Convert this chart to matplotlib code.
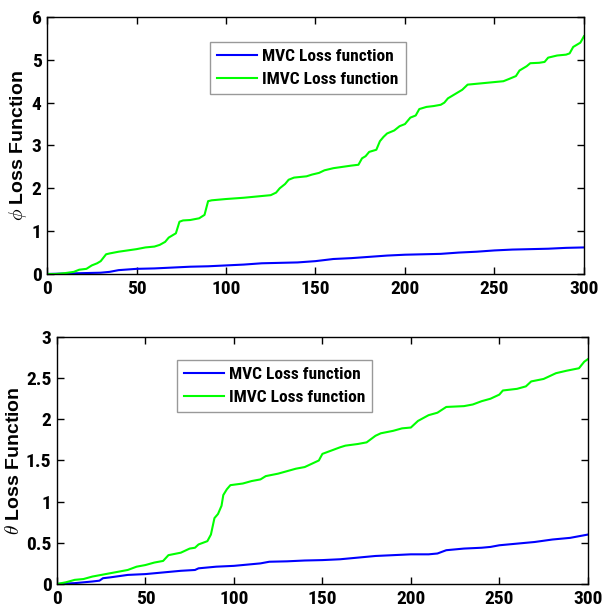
import matplotlib
matplotlib.use("Agg")
import matplotlib.pyplot as plt

plt.rcParams['font.family'] = ['Roboto Condensed', 'DejaVu Sans']
plt.rcParams['font.weight'] = 'bold'
plt.rcParams['mathtext.fontset'] = 'cm'

# phi loss (top panel)
phi_imvc_x = [0, 5, 10, 15, 18, 22, 25, 28, 30, 33, 35, 40, 45, 50, 55, 60, 63, 66, 68, 70, 72, 74, 76, 80, 85,
              88, 90, 92, 100, 110, 115, 120, 125, 128, 130, 133, 135, 138, 145, 148, 152, 155, 160, 165, 170,
              174, 176, 178, 180, 184, 186, 188, 190, 194, 197, 200, 203, 206, 208, 212, 216, 220, 222, 224,
              228, 232, 235, 240, 245, 250, 255, 258, 262, 264, 268, 270, 275, 278, 280, 285, 290, 292, 294,
              298, 300]
phi_imvc_y = [0, 0.0, 0.02, 0.05, 0.1, 0.12, 0.2, 0.25, 0.3, 0.46, 0.48, 0.52, 0.55, 0.58, 0.62, 0.64, 0.68,
              0.75, 0.85, 0.9, 0.95, 1.22, 1.25, 1.26, 1.3, 1.38, 1.7, 1.72, 1.75, 1.78, 1.8, 1.82, 1.84, 1.9,
              2.0, 2.1, 2.2, 2.25, 2.28, 2.32, 2.36, 2.42, 2.47, 2.5, 2.53, 2.55, 2.7, 2.75, 2.85, 2.9, 3.1,
              3.2, 3.28, 3.35, 3.45, 3.5, 3.65, 3.7, 3.85, 3.9, 3.92, 3.95, 4.0, 4.1, 4.2, 4.3, 4.42, 4.44,
              4.46, 4.48, 4.5, 4.55, 4.62, 4.75, 4.85, 4.92, 4.93, 4.95, 5.05, 5.1, 5.12, 5.15, 5.3, 5.4, 5.55]
phi_mvc_x = [0, 10, 20, 30, 35, 40, 50, 60, 70, 80, 90, 100, 110, 120, 130, 140, 150, 160, 170, 180, 190,
             200, 210, 220, 230, 240, 250, 260, 270, 280, 290, 300]
phi_mvc_y = [0, 0.01, 0.02, 0.03, 0.05, 0.09, 0.12, 0.13, 0.15, 0.17, 0.18, 0.2, 0.22, 0.25, 0.26, 0.27,
             0.3, 0.35, 0.37, 0.4, 0.43, 0.45, 0.46, 0.47, 0.5, 0.52, 0.55, 0.57, 0.58, 0.59, 0.61, 0.62]

# theta loss (bottom panel)
th_imvc_x = [0, 5, 10, 15, 20, 25, 30, 35, 40, 45, 50, 55, 60, 63, 70, 75, 78, 80, 85, 87, 89, 91, 93, 94,
             96, 98, 105, 110, 115, 118, 125, 130, 135, 140, 145, 148, 150, 155, 160, 163, 170, 175, 180,
             183, 190, 195, 200, 204, 210, 215, 220, 230, 235, 240, 245, 248, 250, 252, 260, 265, 268, 275,
             278, 282, 288, 295, 298, 300]
th_imvc_y = [0, 0.02, 0.05, 0.06, 0.09, 0.11, 0.13, 0.15, 0.17, 0.21, 0.23, 0.26, 0.28, 0.35, 0.38, 0.43,
             0.44, 0.48, 0.52, 0.6, 0.8, 0.85, 0.95, 1.08, 1.15, 1.2, 1.22, 1.25, 1.27, 1.31, 1.34, 1.37,
             1.4, 1.42, 1.47, 1.5, 1.58, 1.62, 1.66, 1.68, 1.7, 1.72, 1.8, 1.83, 1.86, 1.89, 1.9, 1.98,
             2.05, 2.08, 2.15, 2.16, 2.18, 2.22, 2.25, 2.28, 2.3, 2.35, 2.37, 2.4, 2.46, 2.49, 2.52, 2.56,
             2.59, 2.62, 2.7, 2.73]
th_mvc_x = [0, 10, 20, 24, 26, 30, 40, 50, 60, 70, 78, 80, 90, 100, 110, 115, 120, 130, 140, 150, 160, 170,
            180, 190, 200, 210, 215, 220, 230, 240, 245, 250, 260, 270, 280, 290, 295, 300]
th_mvc_y = [0, 0.01, 0.03, 0.04, 0.07, 0.08, 0.11, 0.12, 0.14, 0.16, 0.17, 0.19, 0.21, 0.22, 0.24, 0.25,
            0.27, 0.275, 0.285, 0.29, 0.3, 0.32, 0.34, 0.35, 0.36, 0.36, 0.37, 0.41, 0.43, 0.44, 0.45, 0.47,
            0.49, 0.51, 0.54, 0.56, 0.58, 0.6]

labels = ["MVC Loss function", "IMVC Loss function"]


def style_axes(ax, ylim, yticks, ytick_labels):
    ax.set_xlim(0, 300)
    ax.set_ylim(*ylim)
    ax.set_xticks([0, 50, 100, 150, 200, 250, 300])
    ax.set_yticks(yticks)
    ax.set_yticklabels(ytick_labels)
    ax.tick_params(direction='in', top=True, right=True, length=5, width=1, labelsize=14, pad=4)
    for s in ax.spines.values():
        s.set_linewidth(1.0)


def add_legend(ax, anchor):
    leg = ax.legend(loc='upper left', bbox_to_anchor=anchor, fontsize=12.5, frameon=True,
                    fancybox=False, edgecolor='#808080', handlelength=2.3, borderpad=0.4,
                    labelspacing=0.45, handletextpad=0.3, borderaxespad=0)
    leg.get_frame().set_linewidth(1.0)
    return leg


fig = plt.figure(figsize=(6.06, 6.12), dpi=100)

ax1 = fig.add_axes([0.0776, 0.5523, 0.886, 0.42])
ax1.plot(phi_mvc_x, phi_mvc_y, color='#0000ff', lw=1.5, label=labels[0])
ax1.plot(phi_imvc_x, phi_imvc_y, color='#00ff00', lw=1.5, label=labels[1])
style_axes(ax1, (0, 6), range(0, 7), [str(v) for v in range(0, 7)])
ax1.set_ylabel(r"$\phi$ Loss Function", fontsize=14, family=['Liberation Sans'], fontweight='bold', labelpad=2)
add_legend(ax1, (0.304, 0.903))

ax2 = fig.add_axes([0.094, 0.0458, 0.876, 0.4036])
ax2.plot(th_mvc_x, th_mvc_y, color='#0000ff', lw=1.5, label=labels[0])
ax2.plot(th_imvc_x, th_imvc_y, color='#00ff00', lw=1.5, label=labels[1])
style_axes(ax2, (0, 3), [0, 0.5, 1, 1.5, 2, 2.5, 3], ['0', '0.5', '1', '1.5', '2', '2.5', '3'])
ax2.set_ylabel(r"$\theta$ Loss Function", fontsize=14, family=['Liberation Sans'], fontweight='bold', labelpad=2)
add_legend(ax2, (0.226, 0.907))

fig.savefig("out.png", dpi=100)
